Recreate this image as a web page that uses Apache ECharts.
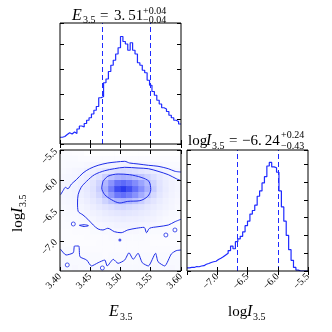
<!DOCTYPE html>
<html>
<head>
<meta charset="utf-8">
<script src="https://cdn.jsdelivr.net/npm/echarts@6/dist/echarts.min.js"></script>
<style>html,body{margin:0;padding:0;background:#fff}#main{width:332px;height:332px}</style>
</head>
<body>
<div id="main"></div>
<script>
// marginal of E_3.5 : 50 bins between 3.40 and 3.60
var eRange = [3.40, 3.60];
var eHist = [0.27,0.30,0.38,0.45,0.40,0.48,0.42,0.60,0.72,0.68,
             0.82,0.95,1.05,1.20,1.35,1.50,1.85,1.90,2.45,2.60,
             2.90,3.15,3.35,3.60,3.85,4.30,4.10,4.00,3.75,4.05,
             3.75,3.60,3.25,3.15,2.95,2.85,2.55,2.35,2.10,1.95,
             1.75,1.60,1.45,1.40,1.30,1.15,1.05,0.95,0.90,0.80];
var eStats = [3.51, 0.04, 0.04];   // median, +err, -err

// marginal of logI_3.5 : 50 bins between -7.5 and -5.5
var lRange = [-7.5, -5.5];
var lHist = [0.18,0.20,0.20,0.25,0.24,0.28,0.30,0.38,0.42,0.48,
             0.52,0.55,0.65,0.72,0.80,0.90,1.00,1.15,1.40,1.25,
             1.65,1.80,1.95,2.20,2.55,2.80,3.20,3.40,3.70,4.20,
             4.50,4.95,5.30,5.90,6.10,5.85,5.80,5.55,4.50,3.60,
             2.80,2.00,1.20,0.60,0.20,0.05,0,0,0,0];
var lStats = [-6.24, 0.24, 0.43];

// 2d density, 20 x 20 cells, rows from logI=-5.5 (top) down to -7.5
var density = [
 [0.3,0.3,0.2,0.2,0.1,0.1,0.1,0.1,0.1,0.1,0.1,0.1,0.1,0.1,0.1,0.1,0.1,0.1,0.1,0.1],
 [0.4,0.4,0.4,0.3,0.3,0.3,0.3,0.3,0.3,0.3,0.3,0.3,0.3,0.3,0.3,0.2,0.2,0.2,0.2,0.2],
 [0.4,0.5,0.5,0.5,0.6,0.7,0.8,0.9,1.0,1.1,1.1,1.1,1.0,0.9,0.8,0.7,0.6,0.5,0.4,0.4],
 [0.5,0.6,0.7,0.8,1.0,1.2,1.5,1.9,2.3,2.6,2.7,2.6,2.4,2.1,1.8,1.5,1.2,0.9,0.7,0.6],
 [0.6,0.7,0.8,1.0,1.3,1.7,2.3,3.2,4.0,4.6,4.8,4.6,4.2,3.7,3.1,2.4,1.7,1.2,0.9,0.7],
 [0.7,0.8,0.9,1.2,1.6,2.1,3.0,4.4,6.0,7.4,7.8,7.2,6.3,5.3,4.3,3.1,2.1,1.4,1.0,0.8],
 [0.7,0.8,1.0,1.3,1.7,2.3,3.3,4.9,7.0,9.2,10.0,9.0,7.5,6.2,4.8,3.4,2.2,1.5,1.0,0.8],
 [0.7,0.8,0.9,1.2,1.6,2.1,2.9,4.2,5.8,7.2,7.6,7.0,6.1,5.0,3.9,2.8,1.9,1.3,0.9,0.7],
 [0.6,0.7,0.8,1.0,1.3,1.7,2.3,3.1,3.9,4.5,4.7,4.4,3.9,3.3,2.6,2.0,1.5,1.1,0.8,0.6],
 [0.5,0.6,0.7,0.8,1.0,1.3,1.7,2.1,2.5,2.8,2.9,2.7,2.5,2.2,1.8,1.5,1.2,0.9,0.7,0.5],
 [0.4,0.5,0.5,0.6,0.8,1.0,1.2,1.5,1.7,1.9,2.0,1.9,1.8,1.6,1.4,1.2,0.9,0.7,0.5,0.4],
 [0.3,0.4,0.4,0.5,0.6,0.7,0.9,1.1,1.2,1.3,1.4,1.3,1.3,1.2,1.0,0.9,0.7,0.5,0.4,0.3],
 [0.3,0.3,0.3,0.4,0.5,0.5,0.6,0.7,0.8,0.9,0.9,0.9,0.9,0.8,0.7,0.6,0.5,0.4,0.3,0.3],
 [0.2,0.2,0.3,0.3,0.3,0.4,0.4,0.5,0.5,0.6,0.6,0.6,0.6,0.5,0.5,0.4,0.4,0.3,0.3,0.2],
 [0.2,0.2,0.2,0.2,0.3,0.3,0.3,0.3,0.4,0.4,0.4,0.4,0.4,0.4,0.3,0.3,0.3,0.2,0.2,0.2],
 [0.3,0.2,0.2,0.2,0.2,0.2,0.3,0.3,0.3,0.3,0.3,0.3,0.3,0.3,0.3,0.2,0.2,0.2,0.2,0.2],
 [0.4,0.4,0.3,0.3,0.3,0.3,0.3,0.3,0.3,0.3,0.3,0.3,0.3,0.3,0.3,0.3,0.3,0.3,0.3,0.3],
 [0.5,0.4,0.5,0.4,0.4,0.4,0.4,0.3,0.4,0.4,0.4,0.4,0.4,0.4,0.4,0.4,0.4,0.4,0.5,0.4],
 [0.5,0.5,0.5,0.5,0.5,0.4,0.4,0.4,0.5,0.4,0.4,0.4,0.4,0.5,0.4,0.4,0.5,0.4,0.5,0.5],
 [0.6,0.5,0.6,0.5,0.5,0.5,0.5,0.5,0.4,0.5,0.5,0.5,0.5,0.5,0.5,0.5,0.5,0.5,0.6,0.5]
];

// contour paths [E, logI]
var contourInner = [[3.471,-6.018],[3.479,-5.935],[3.496,-5.897],[3.515,-5.908],[3.534,-5.952],[3.547,-6.018],
  [3.550,-6.156],[3.545,-6.266],[3.532,-6.338],[3.512,-6.349],[3.499,-6.376],[3.485,-6.321],[3.474,-6.239],
  [3.469,-6.128],[3.471,-6.018]];
var contourMid = [[3.600,-6.007],[3.592,-5.974],[3.579,-5.908],[3.562,-5.852],[3.546,-5.809],[3.529,-5.798],
  [3.507,-5.786],[3.490,-5.809],[3.474,-5.842],[3.457,-5.908],[3.444,-6.017],[3.435,-6.117],[3.430,-6.239],
  [3.429,-6.376],[3.430,-6.513],[3.438,-6.574],[3.446,-6.645],[3.455,-6.740],[3.463,-6.806],[3.471,-6.822],
  [3.479,-6.794],[3.490,-6.850],[3.501,-6.867],[3.512,-6.822],[3.526,-6.794],[3.539,-6.778],[3.543,-6.867],
  [3.548,-6.794],[3.562,-6.768],[3.579,-6.740],[3.590,-6.685],[3.600,-6.645]];
var contourOuter = [[3.401,-6.239],[3.405,-6.173],[3.409,-6.117],[3.413,-6.140],[3.419,-6.062],[3.427,-5.991],
  [3.438,-5.880],[3.449,-5.809],[3.463,-5.753],[3.479,-5.715],[3.493,-5.698],[3.507,-5.687],[3.515,-5.715],
  [3.529,-5.731],[3.546,-5.753],[3.562,-5.769],[3.579,-5.809],[3.590,-5.852],[3.600,-5.864]];
var contourLow = [[3.401,-7.141],[3.410,-7.236],[3.422,-7.198],[3.424,-7.087],[3.431,-7.087],[3.433,-7.264],
  [3.444,-7.318],[3.452,-7.417],[3.463,-7.363],[3.474,-7.318],[3.478,-7.417],[3.488,-7.307],[3.496,-7.373],
  [3.507,-7.318],[3.514,-7.198],[3.521,-7.307],[3.529,-7.207],[3.536,-7.363],[3.546,-7.417],[3.558,-7.207],
  [3.562,-7.346],[3.573,-7.417],[3.584,-7.219],[3.592,-7.164],[3.600,-7.153]];
var contourSmall = [[3.432,-6.745],[3.440,-6.735],[3.447,-6.750],[3.440,-6.765],[3.432,-6.745]];
var contourBlobs = [[3.422,-6.723],[3.590,-6.822],[3.575,-6.905],[3.412,-7.400],[3.470,-7.450]];
var contourDots = [[3.499,-6.988]];

var FONT = '"Liberation Serif","DejaVu Serif",serif';
var INK = '#1f2bff';
var LINE = '#1e2de8';

function stepData(hist, range) {
  var w = (range[1] - range[0]) / hist.length;
  var pts = hist.map(function (v, i) { return [range[0] + i * w, v]; });
  pts.push([range[1], hist[hist.length - 1]]);
  return pts;
}

function ax(grid, pos, min, max, interval, label) {
  return {
    type: 'value', gridIndex: grid, position: pos, min: min, max: max, interval: interval, z: 10,
    axisLine: {show: false}, splitLine: {show: false},
    axisTick: {show: true, inside: true, length: 4, lineStyle: {color: '#000', width: 1}},
    axisLabel: label ? Object.assign({show: true, fontSize: 10, fontFamily: FONT, color: '#000',
      rotate: 45, margin: 4}, label) : {show: false}
  };
}
function catAx(grid, n, inverse) {
  var d = []; for (var i = 0; i < n; i++) d.push(String(i));
  return {type: 'category', gridIndex: grid, data: d, inverse: !!inverse, show: false,
    axisLine: {show: false}, axisTick: {show: false}, axisLabel: {show: false}};
}
function fmtE(v) { return v.toFixed(2); }
function fmtL(v) { return (v < 0 ? '\u2212' : '') + Math.abs(v).toFixed(1); }

var heat = [];
density.forEach(function (row, r) {
  row.forEach(function (v, c) { heat.push([c, r, v]); });
});

function txt(x, y, s, size, italic, align) {
  return {type: 'text', x: x, y: y, silent: true, z: 20, style: {
    text: s, fontSize: size, fontFamily: FONT, fontStyle: italic ? 'italic' : 'normal', fill: '#000',
    align: align || 'left', verticalAlign: 'middle', textAlign: align || 'left', textVerticalAlign: 'middle'}};
}
// "3. 51" style numbers, as mathtext prints them
function num(v) { return v.toFixed(2).replace(/^(-?\d+)\./, '$1.\u2009').replace('-', '\u2212'); }

var dashE = [eStats[0] - eStats[2], eStats[0] + eStats[1]];
var dashL = [lStats[0] - lStats[2], lStats[0] + lStats[1]];

function dashes(vals) {
  return {silent: true, symbol: ['none', 'none'], label: {show: false}, animation: false,
    lineStyle: {color: INK, type: [5, 3], width: 1},
    emphasis: {disabled: true},
    data: vals.map(function (v) { return {xAxis: v}; })};
}

var chart = echarts.init(document.getElementById('main'));
chart.setOption({
  animation: false,
  grid: [
    {left: 60, top: 23, width: 121, height: 121, show: true, borderColor: '#000', borderWidth: 1, z: 10},
    {left: 60, top: 150, width: 121, height: 121, show: true, borderColor: '#000', borderWidth: 1, z: 10},
    {left: 60, top: 150, width: 121, height: 121},
    {left: 187, top: 150, width: 121, height: 121, show: true, borderColor: '#000', borderWidth: 1, z: 10}
  ],
  xAxis: [
    ax(0, 'bottom', eRange[0], eRange[1], 0.05),
    ax(0, 'top', eRange[0], eRange[1], 0.05),
    ax(1, 'bottom', eRange[0], eRange[1], 0.05, {formatter: fmtE, showMinLabel: true, showMaxLabel: true}),
    ax(1, 'top', eRange[0], eRange[1], 0.05),
    catAx(2, 20),
    ax(3, 'bottom', lRange[0], lRange[1], 0.5, {formatter: fmtL, showMinLabel: false, showMaxLabel: true}),
    ax(3, 'top', lRange[0], lRange[1], 0.5)
  ],
  yAxis: [
    ax(0, 'left', 0, 4.84, 1),
    ax(0, 'right', 0, 4.84, 1),
    ax(1, 'left', lRange[0], lRange[1], 0.5, {formatter: fmtL, showMinLabel: false, showMaxLabel: true}),
    ax(1, 'right', lRange[0], lRange[1], 0.5),
    catAx(2, 20, true),
    ax(3, 'left', 0, 6.8, 1),
    ax(3, 'right', 0, 6.8, 1)
  ],
  visualMap: {type: 'continuous', show: false, seriesIndex: 1, min: 0, max: 10,
    inRange: {color: ['#ffffff', '#dcdfff', '#a3abff', '#6470fa', '#2a3aee']}},
  series: [
    {type: 'line', xAxisIndex: 0, yAxisIndex: 0, step: 'end', showSymbol: false, data: stepData(eHist, eRange),
      lineStyle: {color: INK, width: 1.2}, markLine: dashes(dashE)},
    {type: 'heatmap', xAxisIndex: 4, yAxisIndex: 4, data: heat, z: 1, emphasis: {disabled: true}},
    {type: 'line', xAxisIndex: 2, yAxisIndex: 2, showSymbol: false, smooth: 0.3, data: contourInner,
      lineStyle: {color: LINE, width: 1}},
    {type: 'line', xAxisIndex: 2, yAxisIndex: 2, showSymbol: false, smooth: 0.3, data: contourMid,
      lineStyle: {color: LINE, width: 1}},
    {type: 'line', xAxisIndex: 2, yAxisIndex: 2, showSymbol: false, smooth: 0.3, data: contourOuter,
      lineStyle: {color: LINE, width: 1}},
    {type: 'line', xAxisIndex: 2, yAxisIndex: 2, showSymbol: false, smooth: 0.2, data: contourLow,
      lineStyle: {color: LINE, width: 1}},
    {type: 'line', xAxisIndex: 2, yAxisIndex: 2, showSymbol: false, smooth: 0.3, data: contourSmall,
      lineStyle: {color: LINE, width: 1}},
    {type: 'scatter', xAxisIndex: 2, yAxisIndex: 2, symbolSize: 4, data: contourBlobs,
      itemStyle: {color: '#fff', borderColor: LINE, borderWidth: 1}},
    {type: 'scatter', xAxisIndex: 2, yAxisIndex: 2, symbolSize: 3, data: contourDots,
      itemStyle: {color: LINE}},
    {type: 'line', xAxisIndex: 5, yAxisIndex: 5, step: 'end', showSymbol: false, data: stepData(lHist, lRange),
      lineStyle: {color: INK, width: 1.2}, markLine: dashes(dashL)}
  ],
  graphic: [
    // title over E marginal
    txt(72, 16, 'E', 16, true), txt(83, 20, '3.5', 10), txt(100, 16, '=', 15),
    txt(114, 16, num(eStats[0]), 15),
    txt(143, 11, '+' + eStats[1].toFixed(2), 10), txt(143, 20, '\u2212' + eStats[2].toFixed(2), 10),
    // title over logI marginal
    txt(188, 141, 'log', 15), txt(206, 141, 'I', 16, true), txt(212, 146, '3.5', 10),
    txt(229, 141, '=', 15), txt(242, 141, num(lStats[0]), 15),
    txt(281, 135, '+' + lStats[1].toFixed(2), 10), txt(281, 146, '\u2212' + lStats[2].toFixed(2), 10),
    // x axis names
    txt(109, 312, 'E', 16, true), txt(120, 317, '3.5', 10),
    txt(228, 312, 'log', 15), txt(247, 312, 'I', 16, true), txt(253, 317, '3.5', 10),
    // y axis name, rotated
    {type: 'group', x: 18, y: 232, rotation: Math.PI / 2, children: [
      txt(0, 0, 'log', 15), txt(19, 0, 'I', 16, true), txt(25, 5, '3.5', 10)
    ]}
  ]
});
</script>
</body>
</html>
